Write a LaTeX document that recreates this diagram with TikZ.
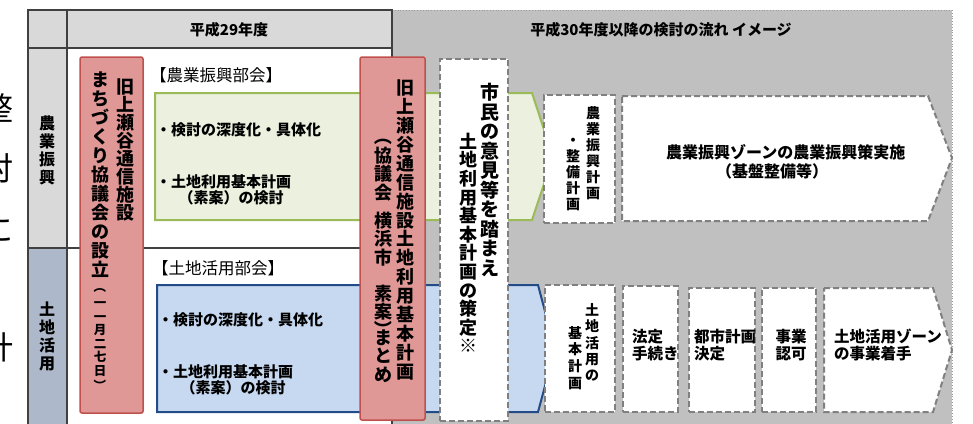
\documentclass[tikz,border=0pt]{standalone}
\usepackage{fontspec}
\setmainfont{Noto Sans CJK JP}
\usetikzlibrary{shadows}

\definecolor{hdrgray}{RGB}{217,217,217}
\definecolor{flowgray}{RGB}{192,192,192}
\definecolor{rowblue}{RGB}{173,185,202}
\definecolor{redfill}{RGB}{224,152,150}
\definecolor{redline}{RGB}{192,80,77}
\definecolor{agrifill}{RGB}{235,241,222}
\definecolor{agriline}{RGB}{155,187,89}
\definecolor{landfill}{RGB}{198,217,241}
\definecolor{landline}{RGB}{35,75,135}
\definecolor{dashgray}{RGB}{128,128,128}
\definecolor{gridline}{RGB}{64,64,64}

\begin{document}
\begin{tikzpicture}[x=1pt, y=-1pt,
    grid/.style={draw=gridline, line width=1.2pt},
    hdr/.style={inner sep=0pt, font=\bfseries\fontsize{15}{16}\selectfont},
    vcol/.style args={#1/#2}{align=center, inner sep=0pt,
      font=\bfseries\fontsize{#1}{#2}\selectfont},
    paren/.style={inner sep=0pt, rotate=-90, font=\bfseries\fontsize{#1}{#1}\selectfont},
    section/.style={anchor=west, inner sep=0pt, font=\fontsize{16.5}{18}\selectfont},
    bullet/.style={anchor=west, align=left, inner sep=0pt,
      font=\bfseries\fontsize{15}{16}\selectfont},
    flowtext/.style={align=left, inner sep=0pt,
      font=\bfseries\fontsize{15.5}{16.5}\selectfont},
    redbox/.style={draw=redline, fill=redfill, line width=1.5pt, rounded corners=2pt,
      drop shadow={opacity=0.25, shadow xshift=1pt, shadow yshift=-1pt}},
    stepbox/.style={draw=dashgray, fill=white, line width=2pt, dash pattern=on 6pt off 3pt},
    agri/.style={draw=agriline, fill=agrifill, line width=2pt},
    land/.style={draw=landline, fill=landfill, line width=2pt},
    margintext/.style={anchor=east, inner sep=0pt, font=\fontsize{32}{34}\selectfont}]
  \useasboundingbox (0,0) rectangle (973,423);

  % text cut off at the left edge
  \node[margintext] (cut1) at (14,108) {整};
  \node[margintext] (cut2) at (14,168) {討};
  \node[margintext] (cut3) at (14,230) {に};
  \node[margintext] (cut4) at (14,347) {計};

  % table
  \fill[hdrgray] (28,10) rectangle (392,48);
  \fill[hdrgray] (28,48) rectangle (67,248);
  \fill[rowblue] (28,248) rectangle (67,426);
  \fill[flowgray] (392,10) rectangle (952,426);
  \draw[dotted, draw=dashgray!80, line width=0.8pt] (392,10) -- (952,10) -- (952,426);
  \draw[grid] (28,426) -- (28,10) -- (392,10) -- (392,426);
  \draw[grid] (67,10) -- (67,426);
  \draw[grid] (28,48) -- (392,48);
  \draw[grid] (28,248) -- (392,248);

  \node[hdr] (hdr29) at (229,30) {平成29年度};
  \node[hdr] (hdr30) at (661,30) {平成30年度以降の検討の流れ イメージ};
  \node[vcol={16/18}] (rowagri) at (47,150) {農\\業\\振\\興};
  \node[vcol={16/18}] (rowland) at (47,336) {土\\地\\活\\用};

  % working groups
  \draw[agri] (155,93) -- (532,93) -- (553,157) -- (532,220) -- (155,220) -- cycle;
  \draw[land] (157,285) -- (538,285) -- (555,349) -- (538,412) -- (157,412) -- cycle;
  \node[section] (agrigroup) at (150,75) {【農業振興部会】};
  \node[section] (landgroup) at (152,268) {【土地活用部会】};
  \node[bullet] (agriitem1) at (156,130) {・検討の深度化・具体化};
  \node[bullet] (agriitem2) at (156,190) {・土地利用基本計画\\\hspace*{1.5em}（素案）の検討};
  \node[bullet] (landitem1) at (158,320) {・検討の深度化・具体化};
  \node[bullet] (landitem2) at (158,380) {・土地利用基本計画\\\hspace*{1.5em}（素案）の検討};

  % council
  \node[redbox, minimum width=63pt, minimum height=356pt] (council) at (111.5,235) {};
  \node[vcol={18/18}] (council1) at (125,150) {旧\\上\\瀬\\谷\\通\\信\\施\\設};
  \node[vcol={18/19}] (council2) at (100,175) {ま\\ち\\づ\\く\\り\\協\\議\\会\\の\\設\\立};
  \node[paren=12.5] (dateopen) at (100,287) {（};
  \node[vcol={12.5/13.5}] (councildate) at (100,339) {一\\一\\月\\二\\七\\日};
  \node[paren=12.5] (dateclose) at (100,386) {）};

  % draft
  \node[redbox, minimum width=65pt, minimum height=363pt] (draft) at (392.5,238.5) {};
  \node[vcol={18/18.9}] (draft1) at (405,230) {旧\\上\\瀬\\谷\\通\\信\\施\\設\\土\\地\\利\\用\\基\\本\\計\\画};
  \node[paren=18] (draftopen) at (383,136) {（};
  \node[vcol={18/18.5}] (draft2) at (383,264.5) {協\\議\\会\\[9.5pt]横\\浜\\市\\[17.5pt]素\\案\\[7pt]ま\\と\\め};
  \node[paren=18] (draftclose) at (383,329) {）};

  % public opinion
  \node[stepbox, minimum width=68pt, minimum height=362pt] (opinion) at (474,240) {};
  \node[vcol={19/19.5}] (opinion1) at (490,180) {市\\民\\の\\意\\見\\等\\を\\踏\\ま\\え};
  \node[vcol={18/18.6}] (opinion2) at (468,243) {土\\地\\利\\用\\基\\本\\計\\画\\の\\策\\定\\※};

  % agriculture flow
  \node[stepbox, minimum width=71pt, minimum height=128pt] (agriplan) at (579.5,159) {};
  \node[vcol={14/16}] (agriplan1) at (593,153) {農\\業\\振\\興\\計\\画};
  \node[vcol={14/16}] (agriplan2) at (573,175) {・\\整\\備\\計\\画};
  \draw[stepbox] (622,96) -- (928,96) -- (952,158) -- (928,221) -- (622,221) -- cycle;
  \node[flowtext, anchor=west, font=\bfseries\fontsize{16}{19}\selectfont] (agrizone) at (666,162) {農業振興ゾーンの農業振興策実施\\\hspace*{50pt}（基盤整備等）};

  % land use flow
  \node[stepbox, minimum width=70pt, minimum height=127pt] (landplan) at (580,348.5) {};
  \node[vcol={14/16.25}] (landplan1) at (592,342.5) {土\\地\\活\\用\\の};
  \node[vcol={14/16.7}] (landplan2) at (575,358) {基\\本\\計\\画};
  \node[stepbox, minimum width=55pt, minimum height=126pt] (legal) at (650.5,349) {};
  \node[flowtext, anchor=west] (legaltext) at (632,345) {法定\\手続き};
  \node[stepbox, minimum width=66pt, minimum height=124pt] (city) at (722,350) {};
  \node[flowtext, anchor=west] (citytext) at (694,345) {都市計画\\決定};
  \node[stepbox, minimum width=54pt, minimum height=124pt] (permit) at (789,350) {};
  \node[flowtext, align=center] (permittext) at (791,345) {事業\\認可};
  \draw[stepbox] (824,288) -- (933,288) -- (952,350) -- (933,412) -- (824,412) -- cycle;
  \node[flowtext, anchor=west] (landzone) at (834,345) {土地活用ゾーン\\の事業着手};
\end{tikzpicture}
\end{document}
